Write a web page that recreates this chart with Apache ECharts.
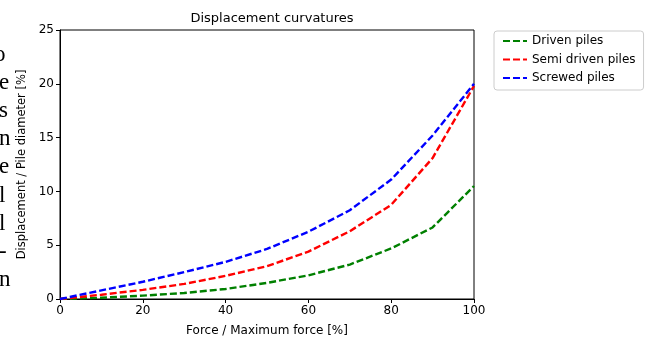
<!DOCTYPE html>
<html><head><meta charset="utf-8">
<script src="https://cdn.jsdelivr.net/npm/echarts@6/dist/echarts.min.js"></script>
<style>html,body{margin:0;padding:0;background:#fff}#c{width:646px;height:342px}</style>
</head><body><div id="c"></div>
<script>
const force = [0,10,20,30,40,50,60,70,80,90,100];
const driven = [0,0.12,0.31,0.56,0.93,1.5,2.2,3.2,4.7,6.65,10.5];
const semiDriven = [0,0.4,0.85,1.4,2.15,3.05,4.4,6.3,8.75,13.1,19.8];
const screwed = [0,0.8,1.6,2.5,3.45,4.65,6.25,8.25,11.1,15.2,20.0];
const seriesNames = ['Driven piles','Semi driven piles','Screwed piles'];
const seriesColors = ['#008000','#ff0000','#0000ff'];
const sideText = ['o','e','s','n','e','l','l','-','n'];

const font = 'DejaVu Sans';
const chart = echarts.init(document.getElementById('c'), null, {renderer:'canvas'});
function mk(name, vals, color){
  return {name, type:'line', data: force.map((f,i)=>[f, vals[i]]), symbol:'none', showSymbol:false,
    lineStyle:{color, width:2.4, type:[7,3]}, itemStyle:{color}, animation:false};
}
chart.setOption({
  animation:false,
  title:{text:'Displacement curvatures', left:267, top:7, textAlign:'center',
    textStyle:{fontFamily:font, fontSize:13, fontWeight:'normal', color:'#000'}},
  grid:{left:60, right:172, top:30, bottom:42, show:true, borderColor:'#000', borderWidth:1, backgroundColor:'transparent'},
  legend:{left:494, top:31, orient:'vertical', itemWidth:24, itemHeight:12, itemGap:6.5,
    padding:[4,8,6,8], borderColor:'#ccc', borderWidth:1, borderRadius:3,
    itemStyle:{opacity:0},
    textStyle:{fontFamily:font, fontSize:12, color:'#000'},
    data: seriesNames},
  xAxis:{type:'value', min:0, max:100, interval:20,
    name:'Force / Maximum force [%]', nameLocation:'middle', nameGap:26,
    nameTextStyle:{fontFamily:font, fontSize:12, color:'#000'},
    axisLine:{lineStyle:{color:'#000'}}, axisTick:{show:true, length:4, lineStyle:{color:'#000'}},
    axisLabel:{fontFamily:font, fontSize:12, color:'#000', margin:6}, splitLine:{show:false}},
  yAxis:{type:'value', min:0, max:25, interval:5,
    name:'Displacement / Pile diameter [%]', nameLocation:'middle', nameGap:30,
    nameTextStyle:{fontFamily:font, fontSize:11.5, color:'#000'},
    axisLine:{show:true, lineStyle:{color:'#000'}}, axisTick:{show:true, length:4, lineStyle:{color:'#000'}},
    axisLabel:{fontFamily:font, fontSize:12, color:'#000', margin:6}, splitLine:{show:false}},
  graphic: sideText.map((t,i)=>({type:'text', left: t==='o' ? -6 : -1, top:43+i*28.2,
    style:{text:t, font:'23px "Liberation Serif"', fill:'#000'}})),
  series:[mk(seriesNames[0], driven, seriesColors[0]), mk(seriesNames[1], semiDriven, seriesColors[1]), mk(seriesNames[2], screwed, seriesColors[2])]
});
</script></body></html>
